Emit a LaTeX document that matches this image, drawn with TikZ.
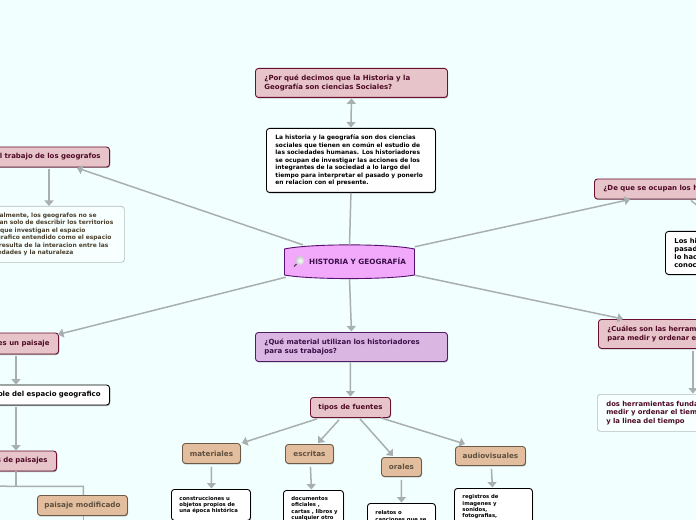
\documentclass[tikz,border=0pt]{standalone}
\usepackage{fontspec}
\setmainfont{DejaVu Sans}[BoldFont={DejaVu Sans Bold}]
\usetikzlibrary{arrows.meta,shadows,calc}
\definecolor{bgc}{HTML}{F2FFFF}
\definecolor{conn}{HTML}{A9AFAF}
\definecolor{rosef}{HTML}{E6C4CA}
\definecolor{rosed}{HTML}{6A1030}
\definecolor{roset}{HTML}{4E0A24}
\definecolor{purpf}{HTML}{DAB6E2}
\definecolor{purpd}{HTML}{4F1D63}
\definecolor{purpt}{HTML}{3A1048}
\definecolor{tanf}{HTML}{E3BE9E}
\definecolor{tand}{HTML}{6B5A48}
\definecolor{tant}{HTML}{5E5040}
\definecolor{centf}{HTML}{F2A8FB}
\definecolor{centd}{HTML}{56106E}
\definecolor{softd}{HTML}{B4BEBE}
\definecolor{softt}{HTML}{4A3F2E}
\tikzset{
  x=1bp,y=-1bp,
  basebox/.style={rectangle,rounded corners=3bp,line width=.9bp,inner xsep=9bp,inner ysep=0pt,font=\bfseries,
    general shadow={shadow xshift=.6bp,shadow yshift=-1bp,fill=black,opacity=.35}},
  rosebox/.style={basebox,draw=rosed,fill=rosef,text=roset},
  purpbox/.style={basebox,draw=purpd,fill=purpf,text=purpt},
  tanbox/.style={basebox,draw=tand,fill=tanf,text=tant},
  whitebox/.style={basebox,draw=black,fill=white,text=black},
  softbox/.style={rectangle,rounded corners=3bp,line width=.7bp,inner xsep=9bp,inner ysep=0pt,font=\bfseries,draw=softd,fill=bgc!60!white},
  sone/.style={font=\bfseries\fontsize{6.95bp}{8bp}\selectfont},
  stan/.style={font=\bfseries\fontsize{7.2bp}{8bp}\selectfont},
  sq/.style={font=\bfseries\fontsize{7bp}{8.4bp}\selectfont},
  sqr/.style={font=\bfseries\fontsize{6.85bp}{8.5bp}\selectfont},
  sw/.style={font=\bfseries\fontsize{5.95bp}{7.5bp}\selectfont},
  sr/.style={font=\bfseries\fontsize{6.8bp}{8bp}\selectfont},
  sl/.style={font=\bfseries\fontsize{5.3bp}{6.4bp}\selectfont},
  link/.style={draw=conn,line width=1.5bp,-{Triangle[width=9bp,length=5.5bp]}},
  link2/.style={draw=conn,line width=1.5bp,{Triangle[width=9bp,length=5.5bp]}-{Triangle[width=9bp,length=5.5bp]}},
  plain/.style={draw=conn,line width=1.5bp}
}
\begin{document}
\begin{tikzpicture}
\useasboundingbox (0,0) rectangle (696,520);
\clip (0,0) rectangle (696,520);
\fill[bgc] (0,0) rectangle (696,520);

% centre shape
\filldraw[draw=centd,fill=centf,line width=.9bp]
  (284.5,249) .. controls (310,243.5) and (389,243.5) .. (414.5,249)
  -- (414.5,275) .. controls (389,279.8) and (310,279.8) .. (284.5,275) -- cycle;
\node[inner sep=0pt,minimum width=130bp,minimum height=34bp] (c) at (349.5,261.5) {};
\node[font=\bfseries\fontsize{7.25bp}{8bp}\selectfont,text=purpt,anchor=west,inner sep=0pt] (ct) at (309,261.5) {HISTORIA Y GEOGRAFÍA};
% magnifier
\draw[line width=1.3bp,draw=black!70] (296.5,264) -- (294,266.5);
\shade[inner color=white,outer color=black!22] (300,260.5) circle (4.6);

% top
\node[rosebox,sq,anchor=north west,minimum width=192bp,minimum height=29bp,text width=174bp,align=left] (q1) at (255,68) {¿Por qué decimos que la Historia y la\\Geografía son ciencias Sociales?};
\node[whitebox,sw,anchor=north west,minimum width=169bp,minimum height=64bp,text width=151bp,align=left] (a1) at (266,128) {La historia y la geografía son dos ciencias\\sociales que tienen en común el estudio de\\las sociedades humanas. Los historiadores\\se ocupan de investigar las acciones de los\\integrantes de la sociedad a lo largo del\\tiempo para interpretar el pasado y ponerlo\\en relacion con el presente.};

% left
\node[rosebox,sone,anchor=east,minimum height=20bp] (t1) at (110,157) {El trabajo de los geografos};
\node[softbox,sw,anchor=north west,minimum width=149bp,minimum height=56bp,text width=131bp,align=left,text=softt] (t2) at (-25,206) {Actualmente, los geografos no se\\limitan solo de describir los territorios\\sino que investigan el espacio\\geografico entendido como el espacio\\que resulta de la interacion entre las\\sociedades y la naturaleza};
\node[rosebox,sone,anchor=east,minimum height=21bp] (p1) at (59,343.5) {Qué es un paisaje};
\node[whitebox,sone,anchor=east,minimum height=20bp] (p2) at (110,395) {Parte visible del espacio geografico};
\node[rosebox,sone,anchor=east,minimum height=20bp] (p3) at (57,461) {Tipos de paisajes};
\node[tanbox,stan,anchor=north west,minimum width=90bp,minimum height=20bp,inner xsep=0pt] (p4) at (37,495) {paisaje modificado};

% centre bottom
\node[purpbox,sq,anchor=north west,minimum width=192bp,minimum height=29bp,text width=174bp,align=left] (q2) at (255,332) {¿Qué material utilizan los historiadores\\para sus trabajos?};
\node[rosebox,sone,anchor=north west,minimum width=80bp,minimum height=20bp,inner xsep=0pt] (f0) at (310,397) {tipos de fuentes};
\node[tanbox,stan,anchor=north west,minimum width=58bp,minimum height=20bp,inner xsep=0pt] (f1) at (182,443) {materiales};
\node[tanbox,stan,anchor=north west,minimum width=48bp,minimum height=19bp,inner xsep=0pt] (f2) at (285,444) {escritas};
\node[tanbox,stan,anchor=north west,minimum width=40bp,minimum height=19bp,inner xsep=0pt] (f3) at (381,457) {orales};
\node[tanbox,stan,anchor=north west,minimum width=70bp,minimum height=19bp,inner xsep=0pt] (f4) at (455,446) {audiovisuales};

\node[whitebox,sl,anchor=north west,minimum width=79bp,minimum height=31bp,text width=63bp,inner xsep=8bp,align=left] (g1) at (171,489) {construcciones u\\objetos propios de\\una época histórica};
\node[whitebox,sl,anchor=north west,minimum width=60bp,minimum height=36bp,text width=44bp,inner xsep=8bp,align=left] (g2) at (283,490) {documentos\\oficiales ,\\\mbox{cartas , libros y}\\\mbox{cualquier otro}};
\node[whitebox,sl,anchor=north west,minimum width=68bp,minimum height=26bp,text width=52bp,inner xsep=8bp,align=left] (g3) at (367,503) {relatos o\\\mbox{canciones que se}};
\node[whitebox,sl,anchor=north west,minimum width=78bp,minimum height=37bp,text width=62bp,inner xsep=8bp,align=left] (g4) at (454,488) {registros de\\imagenes y\\sonidos,\\fotografias,};

% right
\node[rosebox,sone,anchor=west,minimum height=20bp] (r1) at (594,189) {¿De que se ocupan los historiadores?};
\node[whitebox,sr,anchor=north west,minimum width=150bp,minimum height=43bp,text width=132bp,align=left] (r2) at (665,231) {Los historiadores estudian el\\pasado de la humanidad y\\lo hacen para construir\\conocimiento};
\node[rosebox,sqr,anchor=north west,minimum width=200bp,minimum height=29bp,text width=182bp,align=left] (r3) at (598,319) {¿Cuáles son las herramientas\\para medir y ordenar el tiempo?};
\node[softbox,sqr,anchor=north west,minimum width=240bp,minimum height=37bp,text width=222bp,inner xsep=8.5bp,align=left,text=roset] (r4) at (597,394) {dos herramientas fundamentales para\\medir y ordenar el tiempo: el calendario\\y la linea del tiempo};

% connectors
\draw[link2] ($(q1.south)+(0,.5)$) -- ($(a1.north)+(0,-.5)$);
\draw[plain] ($(c.north)+(0,.5)$) -- (a1.south);
\draw[link] ($(c.south)+(0,.5)$) -- ($(q2.north)+(0,-.5)$);
\draw[link] ($(c.north west)+(18.5,.5)$) -- ($(t1.south east)+(-33,.5)$);
\draw[link] ($(c.south west)+(1.5,-1.5)$) -- ($(p1.south east)+(-1,-20)$);
\draw[link] ($(c.north east)+(0,2.5)$) -- ($(r1.south west)+(36,0)$);
\draw[link] ($(c.south east)+(0,-3.5)$) -- ($(r3.north west)+(25,0)$);
\draw[link] ($(t1.south east)+(-61,2)$) -- ($(t2.north west)+(74,0)$);
\draw[link] ($(p1.south east)+(-43,2)$) -- ($(p2.north east)+(-94,0)$);
\draw[link] ($(p2.south east)+(-94,2)$) -- ($(p3.north east)+(-41,0)$);
\draw[plain] ($(p3.south east)+(-41,0)$) -- ($(p3.south east)+(-41,15)$) coordinate (tr);
\coordinate (tl) at (-5,486);
\draw[plain] (tl) -- (tr) -- ($(p4.north |- tr)+(1,0)$) -- ($(p4.north)+(1,0)$);
\draw[plain] ($(p4.south)+(1,0)$) -- +(0,6);
\draw[link] ($(q2.south)+(-1,.5)$) -- ($(f0.north)+(0,-.5)$);
\draw[link] ($(f0.south west)+(7,1)$) -- ($(f1.north east)+(1,0)$);
\draw[link] ($(f0.south west)+(29,2)$) -- ($(f2.north west)+(33,-1)$);
\draw[link] ($(f0.south west)+(50,1)$) -- ($(f3.north west)+(12,-1)$);
\draw[link] ($(f0.south east)+(-10,0)$) -- ($(f4.north west)+(10,-2)$);
\draw[link] ($(f1.south)+(0,3)$) -- ($(g1.north)+(.5,-.5)$);
\draw[link] ($(f2.south)+(1,3)$) -- ($(g2.north)+(-2,-.5)$);
\draw[link] ($(f3.south)+(0,3)$) -- ($(g3.north)+(0,-.5)$);
\draw[link] ($(f4.south)+(1,3)$) -- ($(g4.north)+(-1,-.5)$);
\draw[link] ($(r3.south west)+(95,2)$) -- ($(r4.north west)+(96,-.5)$);
\draw[plain] ($(r1.south west)+(97,1)$) -- +(6,5);
\end{tikzpicture}
\end{document}
